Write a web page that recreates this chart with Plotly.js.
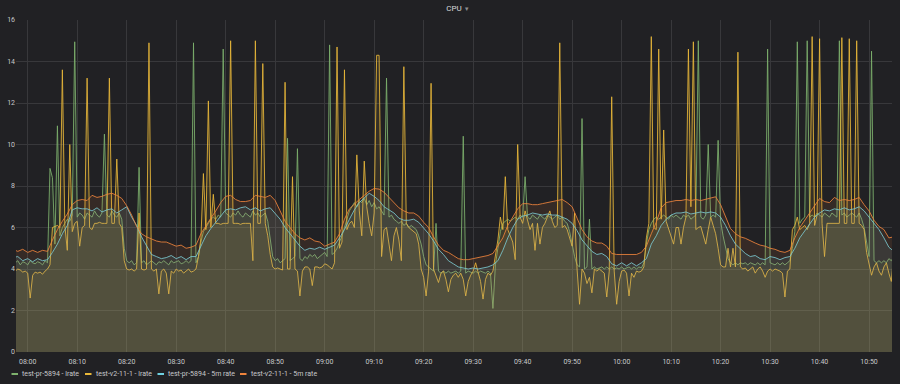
<!DOCTYPE html>
<html>
<head>
<meta charset="utf-8">
<script src="https://cdn.plot.ly/plotly-3.0.1.min.js"></script>
<style>html,body{margin:0;padding:0;background:#212124;}#chart{width:900px;height:384px;}</style>
</head>
<body>
<div id="chart"></div>
<script>
// ---- DATA ----
const seriesNames = ['test-pr-5894 - lrate', 'test-v2-11-1 - lrate', 'test-pr-5894 - 5m rate', 'test-v2-11-1 - 5m rate'];
const seriesColors = ['#7EB26D', '#EAB839', '#6ED0E0', '#EF843C'];
const dayStart = '2019-06-01';
const lrateStartMin = -2.5;   // minutes relative to 08:00
const lrateStepMin = 0.5;
const rate5mStartMin = -3;
const rate5mStepMin = 1;

// test-pr-5894 - lrate (30 s samples, from 07:57:30)
const prLrate = [
 4.3,4.4,4.2,4.35,4.3,4.2,4.4,4.3,4.25,4.35,
 4.3,4.2,4.4,4.3,8.85,8.4,5.2,10.9,5.6,6.0,
 6.2,6.4,6.3,6.6,14.95,6.5,6.7,6.6,6.4,6.7,
 6.6,6.5,6.8,6.6,6.5,6.7,10.5,6.6,6.5,6.8,
 6.6,6.5,6.7,6.4,5.0,4.4,4.3,4.4,4.2,4.3,
 8.9,4.3,4.4,4.2,4.3,4.4,4.3,4.2,4.35,4.3,
 4.4,4.3,4.2,4.4,4.3,4.35,4.4,4.25,4.3,4.4,
 4.3,4.4,14.9,4.3,4.6,5.3,5.8,6.0,6.2,6.4,
 6.5,6.4,6.6,6.5,14.6,6.7,6.6,6.5,6.7,6.6,
 6.8,6.6,6.5,6.7,6.6,6.5,6.8,6.6,6.7,6.5,
 6.6,6.7,6.3,5.4,4.6,4.4,4.5,4.3,4.4,4.5,
 10.3,4.4,4.5,4.6,9.8,4.5,4.4,4.6,4.5,4.7,
 4.6,4.7,4.5,4.6,4.7,4.8,4.6,14.8,4.7,4.8,
 5.0,5.3,5.6,6.0,6.4,6.8,7.0,7.2,7.0,7.3,
 7.2,7.4,7.1,7.3,7.0,7.2,6.9,7.0,6.8,6.6,
 13.2,6.5,6.6,6.4,6.3,6.2,6.3,6.1,6.2,6.0,
 6.1,6.0,5.9,5.6,5.2,4.6,4.2,4.1,4.0,3.9,
 6.2,3.9,3.8,3.9,3.8,3.9,3.8,3.85,3.9,3.8,
 3.9,10.4,3.8,3.9,3.85,3.8,3.9,3.8,3.9,3.85,
 3.8,3.9,3.8,2.1,4.2,5.0,5.8,6.2,6.3,6.4,
 6.3,6.4,6.5,6.4,6.6,6.5,8.45,6.5,6.4,6.6,
 6.5,6.4,6.6,6.5,6.4,6.6,6.5,6.4,6.5,6.6,
 6.4,6.5,6.3,6.2,5.8,5.2,4.6,4.2,4.1,11.25,
 4.0,4.1,6.4,4.0,4.1,4.0,4.05,4.1,4.0,4.1,
 4.0,4.1,4.0,4.05,4.0,4.1,4.0,4.05,4.1,4.0,
 4.1,4.0,4.1,4.05,4.3,5.2,5.9,6.2,6.4,6.5,
 6.4,6.5,6.6,6.5,6.4,6.6,6.5,6.6,6.5,6.4,
 6.6,6.5,6.6,6.4,6.5,6.6,15.0,6.5,6.4,6.6,
 10.0,6.5,6.6,6.5,10.2,6.3,5.6,5.0,4.5,4.3,
 4.2,4.3,4.2,4.3,4.25,4.3,4.2,4.3,4.25,4.2,
 4.3,4.2,4.3,4.2,14.6,4.3,4.25,4.2,4.3,4.2,
 4.3,4.2,4.3,4.4,5.0,5.8,14.95,6.2,6.4,6.5,
 15.0,6.5,6.6,6.5,6.7,6.6,6.5,6.7,6.6,6.5,
 6.7,6.6,6.5,15.0,6.6,6.7,6.5,6.6,6.7,6.6,
 6.5,6.7,6.4,6.0,5.2,4.6,14.5,4.4,4.3,4.4,
 4.3,4.4,4.3,4.5,4.4,4.6
];

// test-v2-11-1 - lrate (30 s samples, from 07:57:30)
const v2Lrate = [
 3.9,4.0,3.95,3.85,3.9,3.8,2.6,3.7,3.85,3.8,
 3.85,3.75,3.9,4.0,4.2,6.0,6.05,6.1,6.0,13.6,
 6.1,4.9,10.0,5.8,6.2,6.3,5.1,6.0,6.1,13.2,
 6.0,5.9,6.2,6.2,6.25,6.2,6.2,6.2,13.2,6.2,
 6.2,9.3,6.2,6.0,4.4,4.0,3.95,4.0,3.9,4.0,
 6.7,4.0,3.95,4.0,14.9,4.0,3.9,4.0,2.8,3.9,
 4.0,3.8,2.8,3.9,3.8,4.0,3.9,3.95,3.8,3.9,
 4.0,3.85,3.9,4.0,4.6,5.5,8.6,5.9,12.1,6.0,
 7.6,6.2,6.2,6.15,6.2,6.2,6.2,15.0,6.2,6.2,
 6.2,6.15,6.2,6.2,6.2,6.2,4.4,15.0,6.2,6.2,
 13.9,6.2,5.6,4.7,4.1,4.0,4.05,4.0,3.95,13.0,
 4.0,4.0,8.45,4.0,3.9,2.7,3.9,4.1,4.1,4.0,
 3.2,4.1,4.1,4.05,4.1,4.25,4.2,4.1,4.0,4.3,
 14.7,5.0,5.3,13.6,5.9,6.2,6.3,6.0,9.5,6.8,
 5.6,9.2,7.0,6.2,5.6,6.7,14.3,14.3,4.6,5.9,
 6.0,5.2,4.4,5.6,6.0,5.4,4.4,13.75,6.2,6.0,
 5.9,5.8,5.7,5.2,4.0,3.6,2.7,3.9,12.95,4.0,
 3.7,3.35,3.8,3.9,3.5,2.9,3.5,3.7,3.8,3.6,
 3.8,3.5,2.7,3.4,3.7,3.9,4.3,3.8,3.4,2.55,
 3.5,3.8,3.7,3.9,4.6,5.4,6.5,5.9,8.45,5.9,
 5.6,5.3,4.45,10.0,6.5,6.2,6.8,6.4,5.9,6.2,
 4.9,6.2,5.2,6.0,6.2,6.5,6.8,6.3,6.0,6.1,
 14.9,6.0,6.1,5.9,5.5,5.1,6.7,4.0,2.3,4.0,
 3.8,3.3,3.6,2.85,4.0,3.9,4.0,3.9,3.8,2.65,
 3.9,12.3,3.9,2.3,3.4,3.9,3.95,3.8,2.7,3.8,
 3.6,3.9,3.85,3.9,4.1,5.5,6.2,15.2,6.0,5.9,
 14.6,6.4,10.7,6.3,5.9,5.5,5.2,6.0,6.0,5.2,
 6.0,6.5,14.6,7.0,14.95,5.9,6.0,6.05,5.6,5.2,
 5.9,6.5,6.1,5.7,5.0,4.2,4.1,4.1,5.0,4.1,
 5.0,4.1,14.45,4.1,4.0,4.05,3.9,4.0,4.1,3.8,
 4.0,4.1,3.9,3.6,3.9,4.0,3.9,4.0,3.95,3.9,
 3.8,2.65,3.9,4.0,5.9,6.1,6.5,5.9,6.0,6.1,
 5.9,6.2,15.2,6.1,6.6,15.1,6.2,4.6,6.2,6.2,
 6.2,6.2,6.2,6.2,15.15,6.2,6.2,15.1,6.2,6.2,
 15.0,6.2,6.1,5.9,4.8,4.2,3.7,4.1,4.3,3.9,
 3.7,4.1,4.3,3.8,3.4,4.8
];

// test-pr-5894 - 5m rate (1 min samples, from 07:57)
const pr5m = [
 4.55,4.6,4.4,4.5,4.35,4.5,4.4,4.45,4.8,5.2,
 5.7,6.1,6.85,6.95,6.9,6.9,6.8,6.95,6.75,6.85,
 6.9,6.7,6.85,7.0,6.5,6.1,5.55,5.1,4.7,4.6,
 4.5,4.55,4.65,4.5,4.6,4.45,4.6,4.6,5.1,5.6,
 5.95,6.25,6.6,6.85,6.9,6.85,6.95,7.0,6.85,6.95,
 6.8,6.9,6.95,6.7,6.4,6.0,5.7,5.35,5.1,4.9,
 5.0,4.95,5.05,4.95,5.05,5.15,5.5,5.9,6.4,6.85,
 7.2,7.45,7.65,7.5,7.3,7.0,6.85,6.7,6.45,6.35,
 6.35,6.4,6.25,6.0,5.7,5.35,4.95,4.7,4.4,4.25,
 4.1,4.05,4.0,4.05,4.0,4.05,4.1,4.2,4.4,4.9,
 5.5,6.0,6.4,6.55,6.6,6.7,6.65,6.6,6.65,6.6,
 6.6,6.5,6.4,6.2,5.85,5.4,5.1,4.85,4.7,4.75,
 4.6,4.25,4.15,4.3,4.15,4.3,4.15,4.3,4.5,5.2,
 5.6,6.1,6.4,6.6,6.7,6.7,6.75,6.65,6.7,6.75,
 6.7,6.75,6.7,6.5,6.1,5.6,5.2,4.95,4.75,4.6,
 4.65,4.5,4.45,4.6,4.55,4.45,4.55,4.6,5.0,5.5,
 5.85,6.2,6.5,6.7,6.85,6.8,6.9,6.85,6.95,6.85,
 6.9,7.0,6.8,6.5,6.2,5.9,5.5,5.05,4.85
];

// test-v2-11-1 - 5m rate (1 min samples, from 07:57)
const v25m = [
 4.95,4.85,4.95,4.8,4.9,4.8,4.9,4.85,5.4,5.9,
 6.3,6.65,7.1,7.3,7.35,7.3,7.55,7.45,7.5,7.6,
 7.65,7.55,7.4,7.05,6.6,6.05,5.7,5.55,5.45,5.35,
 5.3,5.3,5.2,5.1,5.15,5.0,5.05,5.15,5.7,6.1,
 6.45,6.8,7.2,7.5,7.55,7.35,7.25,7.25,7.3,7.55,
 7.5,7.45,7.55,7.3,6.8,6.3,6.0,5.7,5.5,5.4,
 5.5,5.35,5.3,5.1,5.2,5.3,5.7,6.4,6.9,7.15,
 7.35,7.55,7.75,7.88,7.85,7.7,7.45,7.15,6.95,6.8,
 6.7,6.7,6.55,6.25,6.0,5.55,5.15,4.9,4.8,4.65,
 4.5,4.45,4.45,4.5,4.55,4.6,4.65,4.75,5.1,5.5,
 6.1,6.5,6.9,7.15,7.15,7.1,7.1,7.15,7.2,7.25,
 7.3,7.35,7.2,7.0,6.45,5.9,5.55,5.35,5.25,5.25,
 5.1,4.75,4.7,4.7,4.7,4.7,4.7,4.8,5.1,5.7,
 6.25,6.95,7.2,7.25,7.3,7.3,7.35,7.3,7.35,7.3,
 7.35,7.4,7.48,7.1,6.5,5.95,5.7,5.55,5.48,5.35,
 5.25,5.15,5.1,5.0,4.95,4.85,4.8,4.9,5.5,6.0,
 6.35,6.75,7.1,7.4,7.25,7.2,7.45,7.3,7.35,7.3,
 7.35,7.45,7.1,6.8,6.35,6.05,5.9,5.5,5.55
];

const yTicks = [0, 2, 4, 6, 8, 10, 12, 14, 16];

// ---- helpers ----
function stamp(minFrom8) {
  const base = Date.UTC(2019, 5, 1, 8, 0, 0);
  const d = new Date(base + Math.round(minFrom8 * 60000));
  return d.toISOString().replace('T', ' ').slice(0, 19);
}
function timeAxis(values, start, step) {
  return values.map((_, i) => stamp(start + i * step));
}
function hexToRgba(hex, a) {
  const n = parseInt(hex.slice(1), 16);
  return 'rgba(' + ((n >> 16) & 255) + ',' + ((n >> 8) & 255) + ',' + (n & 255) + ',' + a + ')';
}

const seriesValues = [prLrate, v2Lrate, pr5m, v25m];
const seriesStart = [lrateStartMin, lrateStartMin, rate5mStartMin, rate5mStartMin];
const seriesStep = [lrateStepMin, lrateStepMin, rate5mStepMin, rate5mStepMin];

const traces = seriesValues.map((vals, k) => ({
  type: 'scatter',
  mode: 'lines',
  name: seriesNames[k],
  x: timeAxis(vals, seriesStart[k], seriesStep[k]),
  y: vals,
  line: { color: hexToRgba(seriesColors[k], 0.85), width: 1 },
  fill: 'tozeroy',
  fillcolor: hexToRgba(seriesColors[k], 0.1),
  showlegend: false,
  hoverinfo: 'skip'
}));

// plot area in pixels: left 16, right 892, top 20, bottom 352
const W = 900, H = 384, L = 16, R = 8, T = 20, B = 32;
const pw = W - L - R, ph = H - T - B;
const px2x = p => (p - L) / pw;
const py2y = p => (H - B - p) / ph;

const legendSwatch = [11.5, 85, 157.5, 240];
const legendY = 374;
const textCol = '#c7c8ca';
const fontFam = 'Roboto, "Helvetica Neue", Arial, sans-serif';

const shapes = legendSwatch.map((sx, k) => ({
  type: 'rect', xref: 'paper', yref: 'paper',
  x0: px2x(sx), x1: px2x(sx + 6.5),
  y0: py2y(legendY + 1), y1: py2y(legendY - 1),
  fillcolor: seriesColors[k], line: { width: 0 }
}));
const annotations = legendSwatch.map((sx, k) => ({
  xref: 'paper', yref: 'paper',
  x: px2x(sx + 8.5), y: py2y(legendY),
  xanchor: 'left', yanchor: 'middle',
  text: seriesNames[k], showarrow: false,
  font: { family: fontFam, size: 7, color: textCol }
}));

const layout = {
  width: W, height: H,
  margin: { l: L, r: R, t: T, b: B, pad: 0 },
  paper_bgcolor: '#212124',
  plot_bgcolor: '#212124',
  font: { family: fontFam, size: 7, color: textCol },
  title: {
    text: 'CPU <span style="font-size:6px;color:#8e8e90">▼</span>',
    font: { family: fontFam, size: 8, color: '#d8d9da' },
    x: 458 / W, xref: 'container', xanchor: 'center',
    y: 1 - 8 / H, yref: 'container', yanchor: 'middle'
  },
  xaxis: {
    type: 'date',
    range: [stamp(-2.364), stamp(174.64)],
    tickformat: '%H:%M',
    dtick: 600000,
    tick0: dayStart + ' 08:00:00',
    showgrid: true, gridcolor: '#38383b', gridwidth: 1,
    zeroline: false, showline: false,
    ticks: 'outside', ticklen: 3, tickcolor: 'rgba(0,0,0,0)',
    tickfont: { family: fontFam, size: 7, color: textCol },
    fixedrange: true
  },
  yaxis: {
    range: [0, 16],
    tickvals: yTicks,
    ticktext: yTicks.map(String),
    showgrid: true, gridcolor: '#38383b', gridwidth: 1,
    zeroline: false, showline: false,
    ticks: '',
    tickfont: { family: fontFam, size: 7, color: textCol },
    fixedrange: true
  },
  shapes: shapes,
  annotations: annotations,
  showlegend: false
};

Plotly.newPlot('chart', traces, layout, { staticPlot: true, displayModeBar: false });
</script>
</body>
</html>
